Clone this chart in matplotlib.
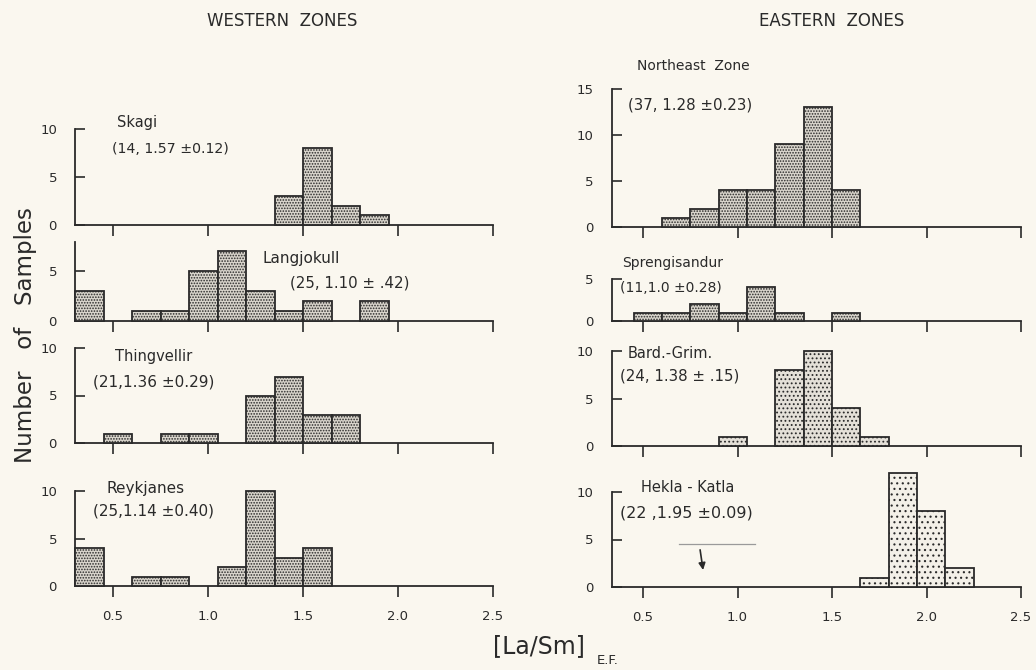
import matplotlib
matplotlib.use("Agg")
import matplotlib.pyplot as plt

# ---------------- data ----------------
bin_lefts = [0.30, 0.45, 0.60, 0.75, 0.90, 1.05, 1.20, 1.35, 1.50, 1.65, 1.80, 1.95, 2.10]
bin_width = 0.15

skagi_counts       = [0, 0, 0, 0, 0, 0, 0, 3, 8, 2, 1, 0, 0]
langjokull_counts  = [3, 0, 1, 1, 5, 7, 3, 1, 2, 0, 2, 0, 0]
thingvellir_counts = [0, 1, 0, 1, 1, 0, 5, 7, 3, 3, 0, 0, 0]
reykjanes_counts   = [4, 0, 1, 1, 0, 2, 10, 3, 4, 0, 0, 0, 0]

northeast_counts   = [0, 0, 1, 2, 4, 4, 9, 13, 4, 0, 0, 0, 0]
sprengi_counts     = [0, 1, 1, 2, 1, 4, 1, 0, 1, 0, 0, 0, 0]
bardgrim_counts    = [0, 0, 0, 0, 1, 0, 8, 10, 4, 1, 0, 0, 0]
hekla_counts       = [0, 0, 0, 0, 0, 0, 0, 0, 0, 1, 12, 8, 2]

x_ticks = [0.5, 1.0, 1.5, 2.0, 2.5]
x_ticklabels = ["0.5", "1.0", "1.5", "2.0", "2.5"]

W, H = 1036, 670
BG = "#faf7ef"
INK = "#2a2a2a"

plt.rcParams["hatch.linewidth"] = 0.8

fig = plt.figure(figsize=(W / 100, H / 100), dpi=100, facecolor=BG)


def add_panel(left_px, right_px, base_px, top_px, xmin, xmax, ymax, yspine_top,
              yticks, counts, name, stats, name_xy, stats_xy, name_fs, stats_fs,
              bottom=False, hatch="......", face="#d9d5cc"):
    ax = fig.add_axes([left_px / W, 1 - base_px / H, (right_px - left_px) / W,
                       (base_px - top_px) / H])
    ax.set_facecolor("none")
    ax.set_xlim(xmin, xmax)
    ax.set_ylim(0, ymax)
    for s in ("top", "right"):
        ax.spines[s].set_visible(False)
    ax.spines["left"].set_bounds(0, yspine_top)
    ax.spines["bottom"].set_bounds(xmin, 2.5)
    for s in ("left", "bottom"):
        ax.spines[s].set_color(INK)
        ax.spines[s].set_linewidth(1.3)
    lefts = [b for b, c in zip(bin_lefts, counts) if c > 0]
    hs = [c for c in counts if c > 0]
    ax.bar(lefts, hs, width=bin_width, align="edge", facecolor=face,
           edgecolor=INK, hatch=hatch, linewidth=1.3, clip_on=False, zorder=3)
    ax.set_yticks(yticks)
    ax.set_yticklabels([str(t) for t in yticks])
    ax.tick_params(axis="y", direction="in", length=7, width=1.2, colors=INK,
                   labelsize=9.5, pad=13)
    ax.set_xticks(x_ticks)
    ax.tick_params(axis="x", direction="out", length=8, width=1.2, colors=INK,
                   labelsize=9.5, pad=9)
    if bottom:
        ax.set_xticklabels(x_ticklabels)
    else:
        ax.set_xticklabels([])
    fig.text(name_xy[0] / W, 1 - name_xy[1] / H, name, fontsize=name_fs,
             color=INK, ha="left", va="center")
    fig.text(stats_xy[0] / W, 1 - stats_xy[1] / H, stats, fontsize=stats_fs,
             color=INK, ha="left", va="center")
    return ax


# left column: x data 0.5 -> px 113, 190 px per unit
LX0, LX1 = 0.3, 2.53
Lleft = 113 - (0.5 - LX0) * 190
Lright = 113 + (LX1 - 0.5) * 190
# right column: 0.5 -> px 643
RX0, RX1 = 0.335, 2.53
Rleft = 643 - (0.5 - RX0) * 189
Rright = 643 + (RX1 - 0.5) * 189

add_panel(Lleft, Lright, 225, 129, LX0, LX1, 10, 10, [0, 5, 10], skagi_counts,
          "Skagi", "(14, 1.57 \u00b10.12)", (117, 122), (112, 149), 10.5, 10.2)
add_panel(Lleft, Lright, 321, 242, LX0, LX1, 7.9, 7.9, [0, 5], langjokull_counts,
          "Langjokull", "(25, 1.10 \u00b1 .42)", (263, 258), (290, 283), 11, 10.8)
add_panel(Lleft, Lright, 443, 348, LX0, LX1, 10, 10, [0, 5, 10], thingvellir_counts,
          "Thingvellir", "(21,1.36 \u00b10.29)", (115, 357), (93, 382), 10.5, 11)
add_panel(Lleft, Lright, 586, 491, LX0, LX1, 10, 10, [0, 5, 10], reykjanes_counts,
          "Reykjanes", "(25,1.14 \u00b10.40)", (107, 489), (93, 511), 11, 11,
          bottom=True)

add_panel(Rleft, Rright, 227, 89, RX0, RX1, 15, 15, [0, 5, 10, 15], northeast_counts,
          "Northeast  Zone", "(37, 1.28 \u00b10.23)", (637, 66), (628, 105), 10, 10.8)
add_panel(Rleft, Rright, 321, 279, RX0, RX1, 5, 5, [0, 5], sprengi_counts,
          "Sprengisandur", "(11,1.0 \u00b10.28)", (622, 263), (620, 288), 10, 10)
add_panel(Rleft, Rright, 446, 351, RX0, RX1, 10, 10, [0, 5, 10], bardgrim_counts,
          "Bard.-Grim.", "(24, 1.38 \u00b1 .15)", (628, 353), (620, 376), 10.5, 10.8,
          hatch="....", face="#e4e0d8")
axh = add_panel(Rleft, Rright, 587, 492, RX0, RX1, 10, 10, [0, 5, 10], hekla_counts,
                "Hekla - Katla", "(22 ,1.95 \u00b10.09)", (641, 488), (620, 513),
                10.5, 11.5, bottom=True, hatch="...", face="#f3f0e8")
# faint pencil mark and arrow in the Hekla-Katla panel
axh.plot([0.69, 1.09], [4.5, 4.5], color="#9a9a9a", lw=0.9)
axh.annotate("", xy=(0.82, 1.5), xytext=(0.80, 4.2),
             arrowprops=dict(arrowstyle="-|>", color=INK, lw=1.2,
                             mutation_scale=10))

# column headings
fig.text(282 / W, 1 - 21 / H, "WESTERN  ZONES", fontsize=12, color=INK,
         ha="center", va="center")
fig.text(832 / W, 1 - 21 / H, "EASTERN  ZONES", fontsize=12, color=INK,
         ha="center", va="center")

# axis labels
fig.text(26 / W, 1 - 335 / H, "Number   of   Samples", rotation=90, fontsize=16.5,
         color=INK, ha="center", va="center")
fig.text(539 / W, 1 - 646 / H, "[La/Sm]", fontsize=17, color=INK,
         ha="center", va="center")
fig.text(597 / W, 1 - 661 / H, "E.F.", fontsize=9.5, color=INK,
         ha="left", va="center")

fig.savefig("out.png", dpi=100, facecolor=BG)
